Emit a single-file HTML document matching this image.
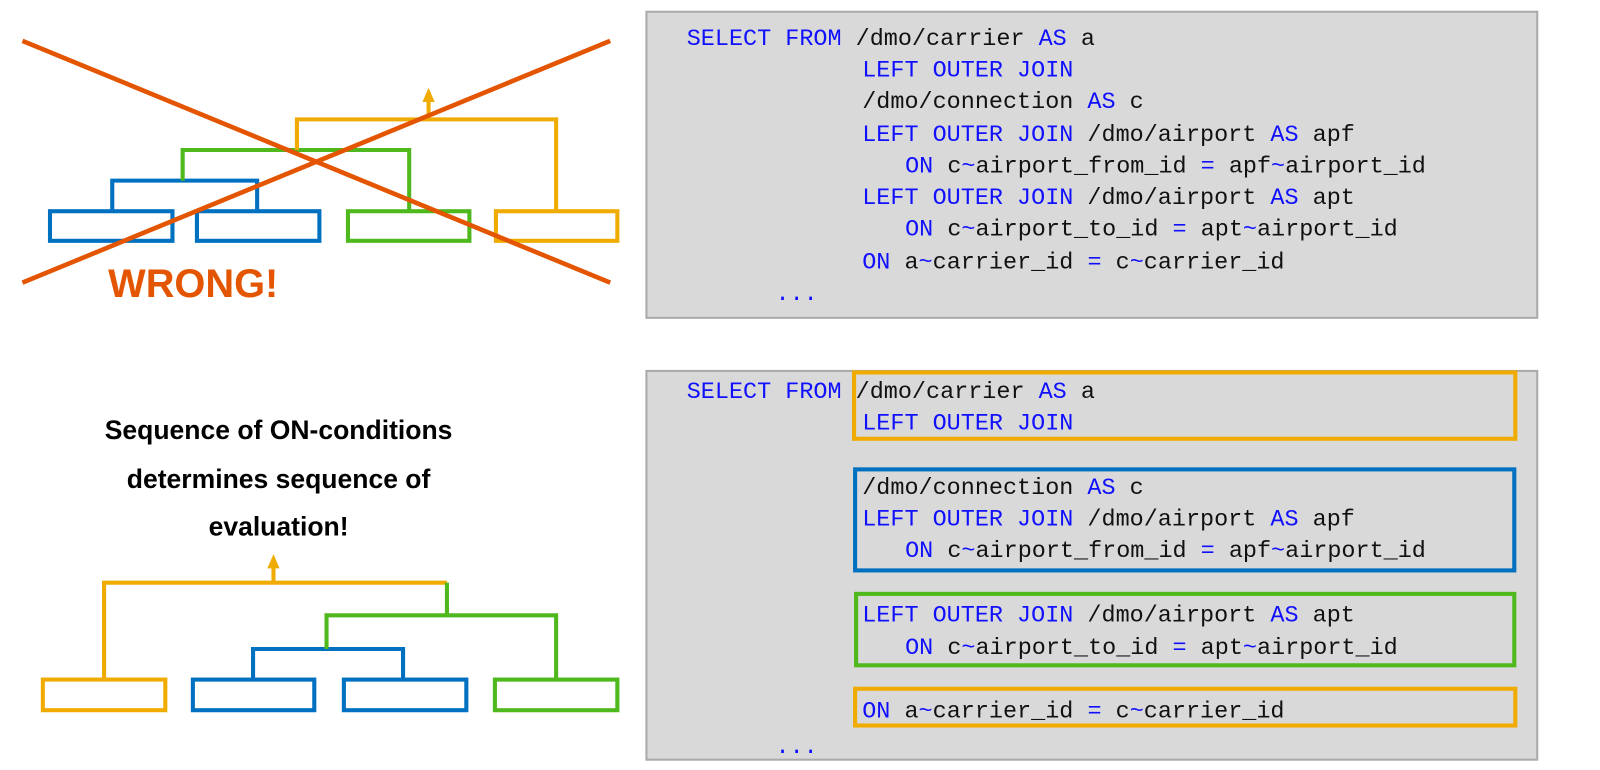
<!DOCTYPE html>
<html><head><meta charset="utf-8"><style>
html,body{margin:0;padding:0;background:#fff;}
svg{display:block}
.c{font-family:"Liberation Mono",monospace;font-size:23px;fill:#111}
.k{fill:#1010ff}
</style></head><body>
<svg width="1600" height="770" viewBox="0 0 1568 754.6" preserveAspectRatio="none" xmlns="http://www.w3.org/2000/svg">
<!-- top-left wrong diagram -->
<g fill="none" stroke-width="4">
<rect x="49" y="207" width="120" height="29" stroke="#0070c0"/>
<rect x="193" y="207" width="120" height="29" stroke="#0070c0"/>
<rect x="341" y="207" width="119" height="29" stroke="#4fb81c"/>
<rect x="486" y="207" width="119" height="29" stroke="#f0ab00"/>
<polyline points="110,207 110,177 252,177 252,207" stroke="#0070c0"/>
<polyline points="179,177 179,147 401,147 401,207" stroke="#4fb81c"/>
<polyline points="291,147 291,117 545,117 545,207" stroke="#f0ab00"/>
<line x1="420" y1="117" x2="420" y2="98" stroke="#f0ab00"/>
</g>
<polygon points="420,86 414,100 426,100" fill="#f0ab00"/>
<g stroke="#e35500" stroke-width="4.5">
<line x1="22" y1="40" x2="598" y2="277"/>
<line x1="22" y1="277" x2="598" y2="40"/>
</g>
<text x="106" y="291" font-family="Liberation Sans,sans-serif" font-weight="bold" font-size="39" fill="#e35500">WRONG!</text>

<!-- bottom-left -->
<g font-family="Liberation Sans,sans-serif" font-weight="bold" font-size="26" fill="#000" text-anchor="middle">
<text x="273" y="430">Sequence of ON-conditions</text>
<text x="273" y="478">determines sequence of</text>
<text x="273" y="525">evaluation!</text>
</g>
<g fill="none" stroke-width="4">
<rect x="42" y="666" width="120" height="30" stroke="#f0ab00"/>
<rect x="189" y="666" width="119" height="30" stroke="#0070c0"/>
<rect x="337" y="666" width="120" height="30" stroke="#0070c0"/>
<rect x="485" y="666" width="120" height="30" stroke="#4fb81c"/>
<polyline points="248,666 248,636 395,636 395,666" stroke="#0070c0"/>
<polyline points="320,636 320,603 545,603 545,666" stroke="#4fb81c"/>
<polyline points="102,666 102,571 438,571" stroke="#f0ab00"/>
<line x1="438" y1="571" x2="438" y2="603" stroke="#4fb81c"/>
<line x1="268" y1="571" x2="268" y2="556" stroke="#f0ab00"/>
</g>
<polygon points="268,543 262,557 274,557" fill="#f0ab00"/>

<!-- top code panel -->
<rect x="633.5" y="11.5" width="873" height="300" fill="#d9d9d9" stroke="#aaa" stroke-width="2"/>
<g class="c">
<text x="673" y="44"><tspan class="k">SELECT FROM</tspan> /dmo/carrier <tspan class="k">AS</tspan> a</text>
<text x="845" y="75" class="k">LEFT OUTER JOIN</text>
<text x="845" y="106">/dmo/connection <tspan class="k">AS</tspan> c</text>
<text x="845" y="138"><tspan class="k">LEFT OUTER JOIN</tspan> /dmo/airport <tspan class="k">AS</tspan> apf</text>
<text x="887" y="169"><tspan class="k">ON</tspan> c<tspan class="k">~</tspan>airport_from_id <tspan class="k">=</tspan> apf<tspan class="k">~</tspan>airport_id</text>
<text x="845" y="200"><tspan class="k">LEFT OUTER JOIN</tspan> /dmo/airport <tspan class="k">AS</tspan> apt</text>
<text x="887" y="231"><tspan class="k">ON</tspan> c<tspan class="k">~</tspan>airport_to_id <tspan class="k">=</tspan> apt<tspan class="k">~</tspan>airport_id</text>
<text x="845" y="263"><tspan class="k">ON</tspan> a<tspan class="k">~</tspan>carrier_id <tspan class="k">=</tspan> c<tspan class="k">~</tspan>carrier_id</text>
<text x="760" y="294" class="k">...</text>
</g>

<!-- bottom code panel -->
<rect x="633.5" y="363.5" width="873" height="381" fill="#d9d9d9" stroke="#aaa" stroke-width="2"/>
<g fill="none" stroke-width="4">
<rect x="837" y="365" width="648" height="65" stroke="#f0ab00"/>
<rect x="838" y="460" width="646" height="99" stroke="#0070c0"/>
<rect x="839" y="582" width="645" height="70" stroke="#4fb81c"/>
<rect x="838" y="675" width="647" height="36" stroke="#f0ab00"/>
</g>
<g class="c">
<text x="673" y="390"><tspan class="k">SELECT FROM</tspan> /dmo/carrier <tspan class="k">AS</tspan> a</text>
<text x="845" y="421" class="k">LEFT OUTER JOIN</text>
<text x="845" y="484">/dmo/connection <tspan class="k">AS</tspan> c</text>
<text x="845" y="515"><tspan class="k">LEFT OUTER JOIN</tspan> /dmo/airport <tspan class="k">AS</tspan> apf</text>
<text x="887" y="546"><tspan class="k">ON</tspan> c<tspan class="k">~</tspan>airport_from_id <tspan class="k">=</tspan> apf<tspan class="k">~</tspan>airport_id</text>
<text x="845" y="609"><tspan class="k">LEFT OUTER JOIN</tspan> /dmo/airport <tspan class="k">AS</tspan> apt</text>
<text x="887" y="641"><tspan class="k">ON</tspan> c<tspan class="k">~</tspan>airport_to_id <tspan class="k">=</tspan> apt<tspan class="k">~</tspan>airport_id</text>
<text x="845" y="703"><tspan class="k">ON</tspan> a<tspan class="k">~</tspan>carrier_id <tspan class="k">=</tspan> c<tspan class="k">~</tspan>carrier_id</text>
<text x="760" y="738" class="k">...</text>
</g>
</svg>
</body></html>
